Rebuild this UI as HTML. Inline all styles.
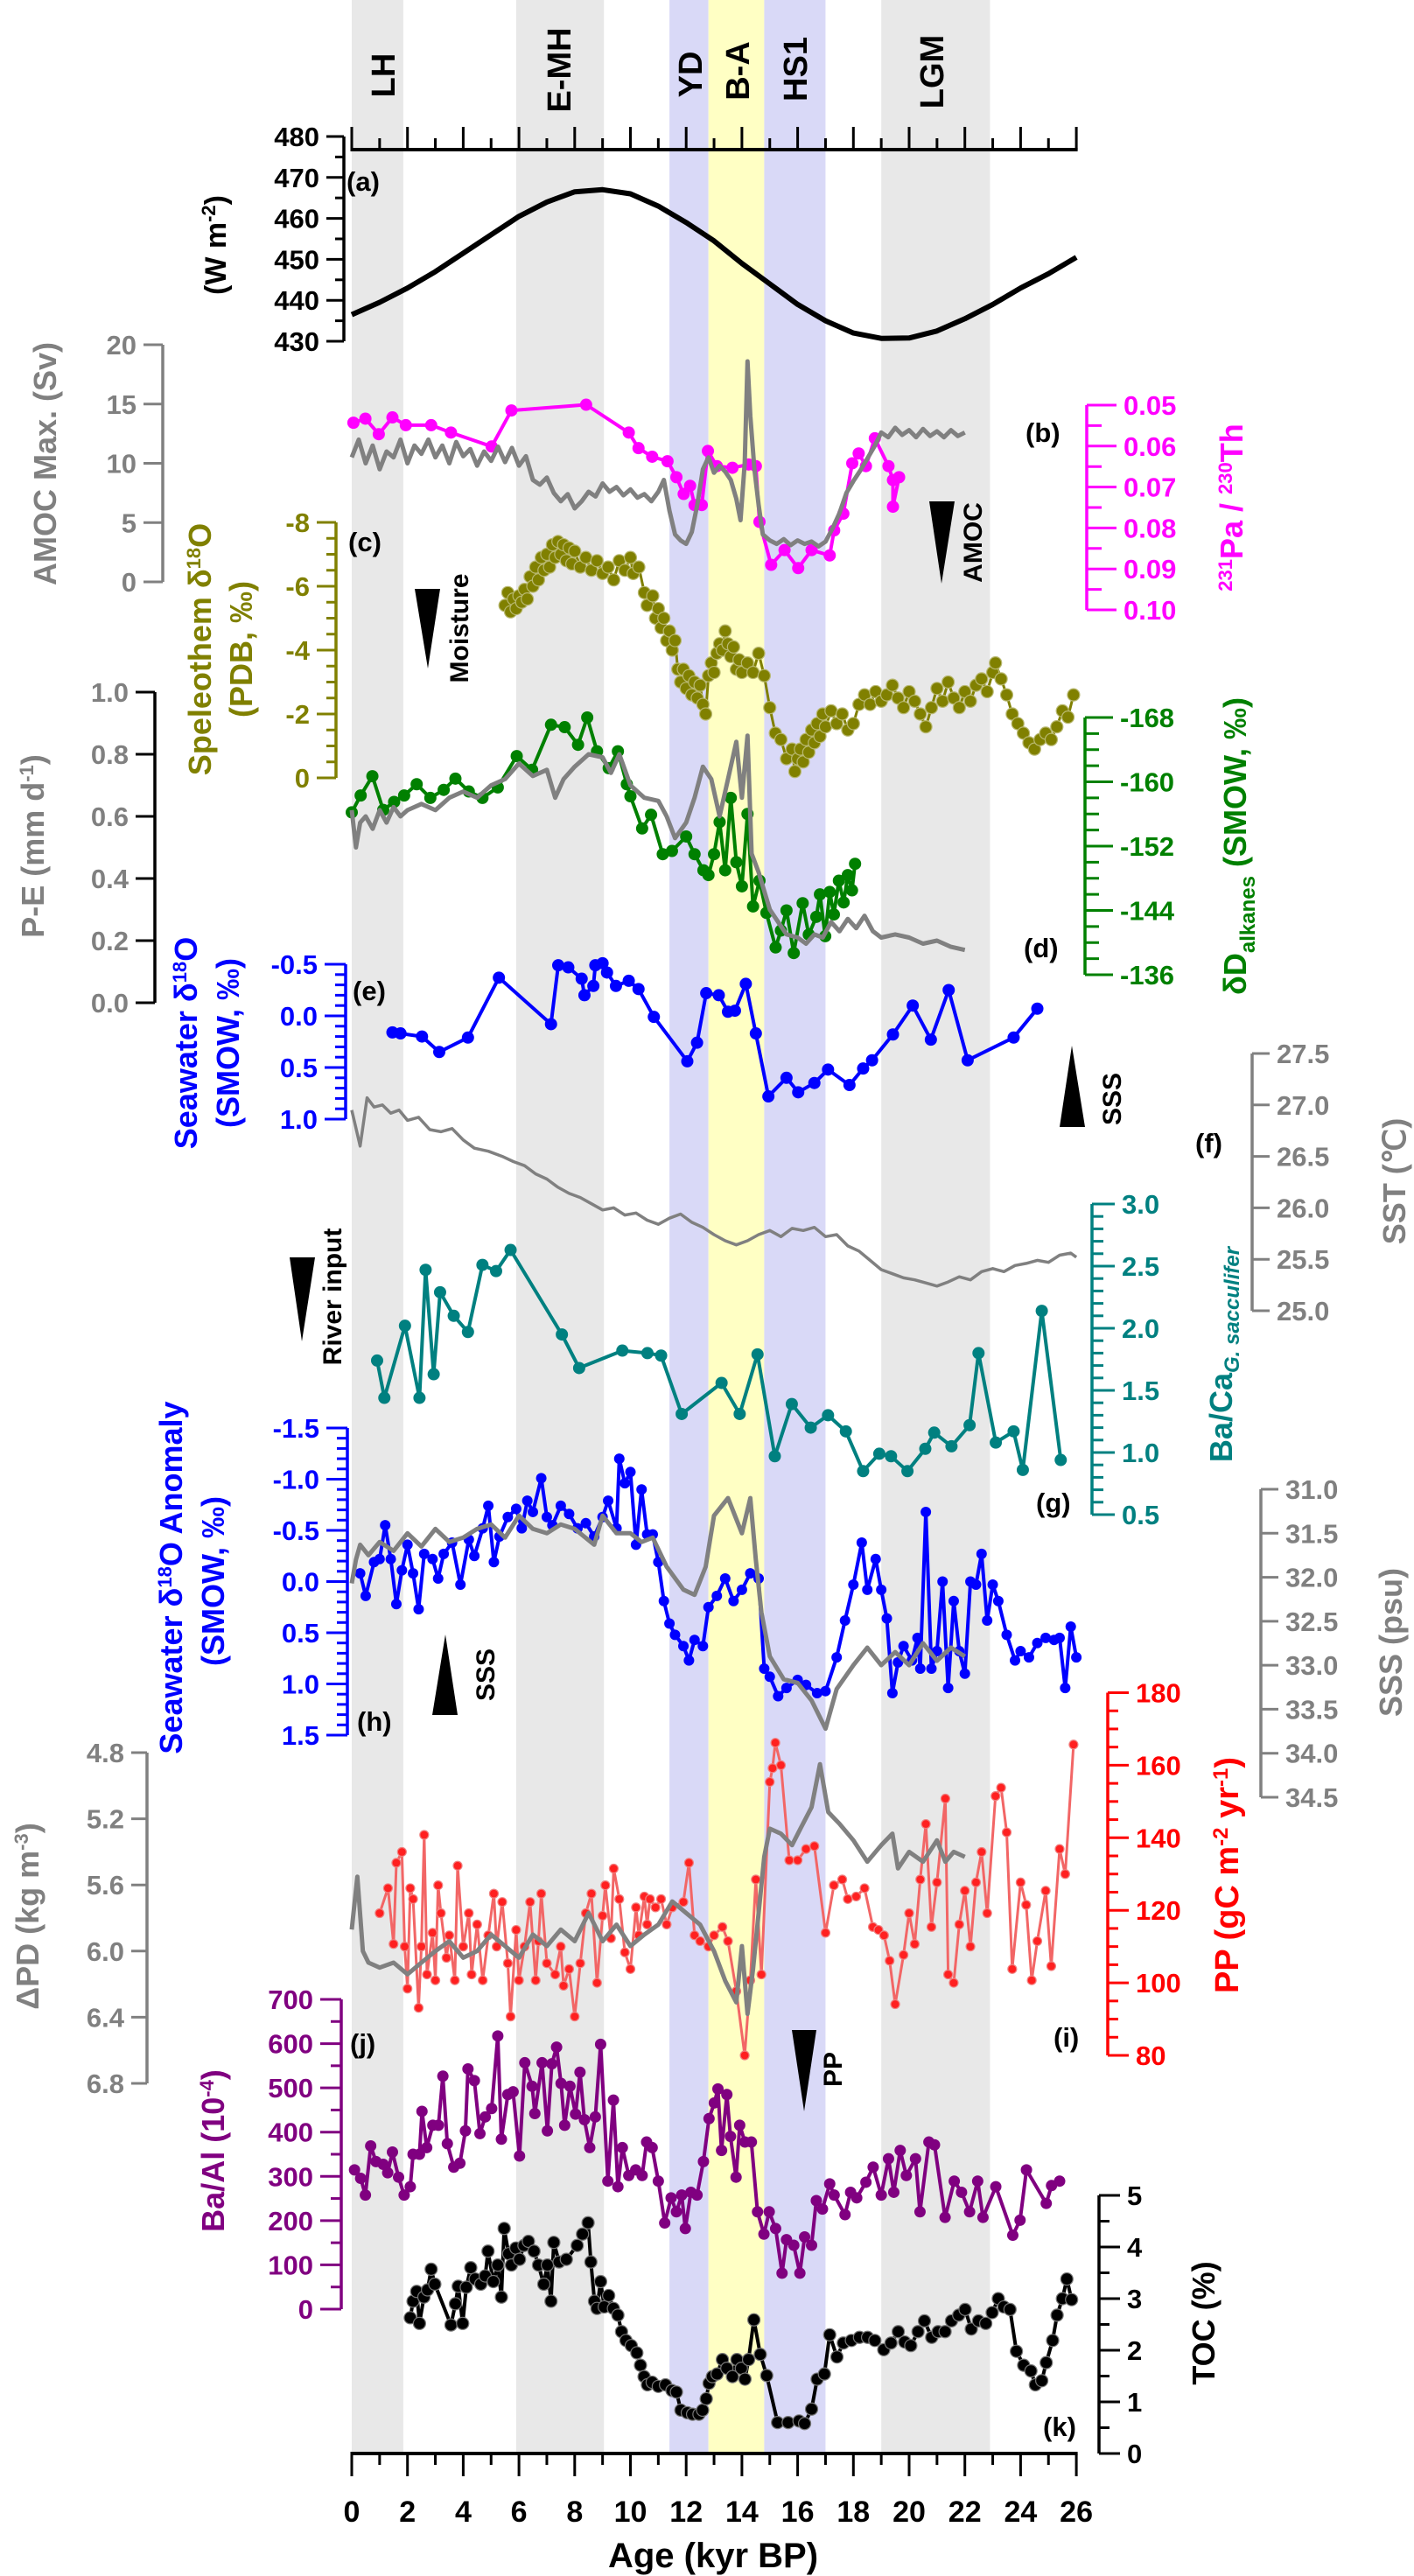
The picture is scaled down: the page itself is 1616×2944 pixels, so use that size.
<!DOCTYPE html>
<html><head><meta charset="utf-8"><style>
html,body{margin:0;padding:0;background:#fff}
svg{display:block}
text{font-family:"Liberation Sans",sans-serif;font-weight:bold}
</style></head><body>
<svg id="fig" xmlns="http://www.w3.org/2000/svg" width="1616" height="2944" viewBox="0 0 1616 2944">
<g id="bands"></g>
<g id="axes"></g>
<g id="series"></g>
<g font-size="38">
  <text transform="translate(451,86) rotate(-90)" text-anchor="middle">LH</text>
  <text transform="translate(652,80) rotate(-90)" text-anchor="middle">E-MH</text>
  <text transform="translate(802,85) rotate(-90)" text-anchor="middle">YD</text>
  <text transform="translate(856,81) rotate(-90)" text-anchor="middle">B-A</text>
  <text transform="translate(922,79) rotate(-90)" text-anchor="middle">HS1</text>
  <text transform="translate(1078,82) rotate(-90)" text-anchor="middle">LGM</text>
  <g font-size="31">
  <text x="396" y="218">(a)</text>
  <text x="1172" y="505">(b)</text>
  <text x="398" y="630">(c)</text>
  <text x="1170" y="1094">(d)</text>
  <text x="403" y="1143">(e)</text>
  <text x="1366" y="1317">(f)</text>
  <text x="1184" y="1728">(g)</text>
  <text x="408" y="1978">(h)</text>
  <text x="1204" y="2339">(i)</text>
  <text x="400" y="2346">(j)</text>
  <text x="1192" y="2784">(k)</text>
  </g>
  <text transform="translate(258,280) rotate(-90)" text-anchor="middle" font-size="34">(W m<tspan dy="-12" font-size="22">-2</tspan><tspan dy="12">)</tspan></text>
  <text fill="#808080" transform="translate(64,530) rotate(-90)" text-anchor="middle" font-size="36">AMOC Max. (Sv)</text>
  <text fill="#ff00ff" transform="translate(1420,580) rotate(-90)" text-anchor="middle" font-size="36"><tspan dy="-12" font-size="22">231</tspan><tspan dy="12">Pa / </tspan><tspan dy="-12" font-size="22">230</tspan><tspan dy="12">Th</tspan></text>
  <text fill="#808000" transform="translate(241,742) rotate(-90)" text-anchor="middle" font-size="36">Speleothem δ<tspan dy="-12" font-size="22">18</tspan><tspan dy="12">O</tspan></text>
  <text fill="#808000" transform="translate(288,742) rotate(-90)" text-anchor="middle" font-size="36">(PDB, ‰)</text>
  <text fill="#808080" transform="translate(50,967) rotate(-90)" text-anchor="middle" font-size="36">P-E (mm d<tspan dy="-12" font-size="22">-1</tspan><tspan dy="12">)</tspan></text>
  <text fill="#008000" transform="translate(1424,967) rotate(-90)" text-anchor="middle" font-size="36">δD<tspan dy="10" font-size="24">alkanes</tspan><tspan dy="-10"> (SMOW, ‰)</tspan></text>
  <text fill="#0000ff" transform="translate(225,1192) rotate(-90)" text-anchor="middle" font-size="36">Seawater δ<tspan dy="-12" font-size="22">18</tspan><tspan dy="12">O</tspan></text>
  <text fill="#0000ff" transform="translate(273,1192) rotate(-90)" text-anchor="middle" font-size="36">(SMOW, ‰)</text>
  <text fill="#808080" transform="translate(1606,1350) rotate(-90)" text-anchor="middle" font-size="36">SST (℃)</text>
  <text fill="#008080" transform="translate(1408,1548) rotate(-90)" text-anchor="middle" font-size="36">Ba/Ca<tspan dy="8" font-size="24" font-style="italic">G. sacculifer</tspan></text>
  <text fill="#0000ff" transform="translate(208,1803) rotate(-90)" text-anchor="middle" font-size="36">Seawater δ<tspan dy="-12" font-size="22">18</tspan><tspan dy="12">O Anomaly</tspan></text>
  <text fill="#0000ff" transform="translate(256,1807) rotate(-90)" text-anchor="middle" font-size="36">(SMOW, ‰)</text>
  <text fill="#808080" transform="translate(1602,1877) rotate(-90)" text-anchor="middle" font-size="36">SSS (psu)</text>
  <text fill="#ff0000" transform="translate(1415,2143) rotate(-90)" text-anchor="middle" font-size="38">PP (gC m<tspan dy="-12" font-size="24">-2</tspan><tspan dy="12"> yr</tspan><tspan dy="-12" font-size="24">-1</tspan><tspan dy="12">)</tspan></text>
  <text fill="#808080" transform="translate(44,2190) rotate(-90)" text-anchor="middle" font-size="36">ΔPD (kg m<tspan dy="-12" font-size="22">-3</tspan><tspan dy="12">)</tspan></text>
  <text fill="#800080" transform="translate(256,2458) rotate(-90)" text-anchor="middle" font-size="36">Ba/Al (10<tspan dy="-12" font-size="22">-4</tspan><tspan dy="12">)</tspan></text>
  <text transform="translate(1388,2655) rotate(-90)" text-anchor="middle" font-size="36">TOC (%)</text>
  <text x="815" y="2934" text-anchor="middle" font-size="40">Age (kyr BP)</text>
  <polygon points="1062,573 1091,573 1076,667"/>
  <text transform="translate(1122,620) rotate(-90)" text-anchor="middle" font-size="30">AMOC</text>
  <polygon points="474,673 503,673 489,764"/>
  <text transform="translate(535,718) rotate(-90)" text-anchor="middle" font-size="30">Moisture</text>
  <polygon points="1211,1288 1240,1288 1225,1195"/>
  <text transform="translate(1281,1256) rotate(-90)" text-anchor="middle" font-size="30">SSS</text>
  <polygon points="331,1437 360,1437 345,1533"/>
  <text transform="translate(390,1482) rotate(-90)" text-anchor="middle" font-size="30">River input</text>
  <polygon points="494,1960 523,1960 509,1868"/>
  <text transform="translate(565,1914) rotate(-90)" text-anchor="middle" font-size="30">SSS</text>
  <polygon points="905,2320 933,2320 919,2413"/>
  <text transform="translate(962,2365) rotate(-90)" text-anchor="middle" font-size="30">PP</text>
</g>
</svg>
<script>
// ---------- data ----------
const insolAge=[0,1,2,3,4,5,6,7,8,9,10,11,12,13,14,15,16,17,18,19,20,21,22,23,24,25,26];
const insolVal=[436.5,439.5,443,447,451.5,456,460.5,464,466.5,467,466,463,459,454.5,449,444,439,435,432,430.7,430.8,432.5,435.5,439,443,446.5,450.5];

const amocAge=[0,0.25,0.5,0.75,1,1.25,1.5,1.75,2,2.25,2.5,2.75,3,3.25,3.5,3.75,4,4.25,4.5,4.75,5,5.25,5.5,5.75,6,6.25,6.5,6.75,7,7.25,7.5,7.75,8,8.25,8.5,8.75,9,9.25,9.5,9.75,10,10.25,10.5,10.75,11,11.2,11.4,11.6,11.8,12,12.2,12.4,12.6,12.8,13,13.2,13.4,13.6,13.8,13.95,14.1,14.2,14.3,14.45,14.6,14.75,15,15.25,15.5,15.75,16,16.25,16.5,16.75,17,17.25,17.5,17.75,18,18.25,18.5,18.75,19,19.25,19.5,19.75,20,20.25,20.5,20.75,21,21.25,21.5,21.75,22];
const amocVal=[10.5,12,10,11.5,9.5,11,10.5,12,10,11.5,10.8,12,10.5,11.5,10,11.8,10.6,11.2,9.8,11,10.2,11.4,10.1,11.3,9.8,10.6,8.6,8.2,8.8,7.5,6.8,7.4,6.2,6.8,7.6,7.2,8.3,7.6,8,7.3,7.8,7.1,7.4,6.8,7.6,8.6,6,4,3.5,3.2,4.2,6.5,9.5,10.5,9.2,9.8,9.3,8.6,7,5.2,10,18.6,14,9.5,6.5,4,3.5,3.2,3.6,3.1,3.5,3.2,3.4,3.0,3.4,4.5,5.8,7.5,8.5,9.4,10.4,11.4,12.6,12.2,13,12.4,12.8,12.2,12.9,12.3,12.7,12.2,12.8,12.3,12.6];

const paAge=[0.06,0.49,0.97,1.46,1.94,2.85,3.56,5.02,5.73,8.41,9.94,10.29,10.78,11.33,11.65,11.91,12.14,12.30,12.56,12.78,13.1,13.66,14.24,14.5,14.63,15.05,15.53,16.02,16.5,17.15,17.31,17.64,17.96,18.19,18.45,18.77,19.26,19.42,19.42,19.64];
const paVal=[0.0543,0.0533,0.0571,0.0530,0.0549,0.0549,0.0567,0.0601,0.0513,0.0499,0.0567,0.0605,0.0626,0.0637,0.0676,0.0717,0.0697,0.0744,0.0744,0.0612,0.0649,0.0653,0.0645,0.0649,0.0785,0.0890,0.0854,0.0898,0.0854,0.0867,0.0806,0.0765,0.0642,0.0618,0.0649,0.0581,0.0649,0.0683,0.0748,0.0676];

const spelAge=[5.5,5.6,5.7,5.8,5.9,6.0,6.1,6.2,6.3,6.4,6.5,6.6,6.7,6.8,6.9,7.0,7.1,7.2,7.3,7.4,7.5,7.6,7.7,7.8,7.9,8.0,8.2,8.4,8.6,8.8,9.0,9.2,9.4,9.6,9.8,10.0,10.1,10.3,10.5,10.6,10.8,10.9,11.0,11.1,11.2,11.3,11.4,11.5,11.6,11.7,11.8,11.9,12.0,12.1,12.2,12.3,12.4,12.5,12.6,12.7,12.8,12.9,13.0,13.1,13.2,13.3,13.4,13.5,13.6,13.7,13.8,13.9,14.0,14.2,14.4,14.6,14.8,15.0,15.2,15.4,15.6,15.8,15.9,16.0,16.1,16.2,16.3,16.4,16.5,16.6,16.7,16.8,16.9,17.0,17.2,17.4,17.6,17.8,18.0,18.2,18.4,18.6,18.8,19.0,19.2,19.4,19.6,19.8,20.0,20.2,20.4,20.6,20.8,21.0,21.2,21.4,21.6,21.8,22.0,22.2,22.4,22.6,22.8,23.0,23.1,23.3,23.5,23.7,23.9,24.1,24.3,24.5,24.7,24.9,25.1,25.3,25.5,25.7,25.9];
const spelVal=[-5.4,-5.8,-5.2,-5.6,-5.3,-5.7,-5.5,-5.9,-5.6,-6.3,-6.0,-6.6,-6.2,-6.9,-6.5,-7.0,-6.6,-7.3,-6.9,-7.4,-7.0,-7.3,-6.8,-7.2,-6.7,-7.1,-6.6,-6.9,-6.5,-6.8,-6.4,-6.6,-6.2,-6.8,-6.5,-6.9,-6.4,-6.6,-5.8,-5.4,-5.7,-5.0,-5.3,-4.7,-5.0,-4.3,-4.6,-4.0,-4.3,-3.4,-3.0,-3.4,-2.8,-3.2,-2.6,-3.0,-2.5,-2.9,-2.3,-2.0,-3.2,-3.6,-3.3,-3.9,-4.2,-4.0,-4.6,-4.2,-3.8,-4.1,-3.4,-3.7,-3.3,-3.6,-3.3,-3.9,-3.2,-2.2,-1.4,-1.2,-0.6,-0.9,-0.2,-0.6,-0.9,-0.5,-1.2,-0.8,-1.5,-1.1,-1.7,-1.3,-2.0,-1.6,-2.1,-1.7,-2.0,-1.5,-1.7,-2.3,-2.6,-2.3,-2.7,-2.4,-2.6,-2.9,-2.5,-2.2,-2.7,-2.4,-2.0,-1.6,-2.2,-2.8,-2.4,-3.0,-2.5,-2.2,-2.7,-2.4,-2.9,-3.1,-2.7,-3.3,-3.6,-3.1,-2.6,-2.0,-1.7,-1.4,-1.1,-0.9,-1.2,-1.4,-1.2,-1.6,-2.1,-1.9,-2.6];

const peAge=[0,0.15,0.3,0.5,0.75,1,1.25,1.5,1.75,2,2.5,3,3.5,4,4.5,5,5.5,6,6.5,7,7.3,7.6,8,8.5,9,9.3,9.6,10,10.5,11,11.3,11.6,12,12.3,12.6,12.9,13.2,13.5,13.8,14,14.2,14.35,14.6,14.8,15,15.3,15.6,16,16.3,16.6,16.9,17.2,17.5,17.8,18.1,18.4,18.7,19,19.5,20,20.5,21,21.5,22];
const peVal=[0.62,0.50,0.58,0.60,0.56,0.62,0.58,0.63,0.60,0.62,0.64,0.62,0.66,0.68,0.66,0.70,0.72,0.77,0.73,0.75,0.66,0.72,0.76,0.80,0.79,0.74,0.80,0.70,0.66,0.65,0.60,0.53,0.58,0.66,0.76,0.72,0.60,0.72,0.84,0.66,0.86,0.48,0.42,0.36,0.30,0.26,0.22,0.21,0.19,0.22,0.21,0.26,0.23,0.27,0.24,0.28,0.23,0.21,0.22,0.21,0.19,0.20,0.18,0.17];

const ddAge=[0,0.32,0.74,1.13,1.52,1.88,2.33,2.82,3.3,3.72,4.2,4.69,5.24,5.92,6.47,7.15,7.64,8.12,8.45,8.8,9.22,9.55,9.87,10.0,10.42,10.74,11.16,11.49,12.0,12.3,12.62,12.8,13.0,13.2,13.4,13.6,13.8,14.0,14.2,14.4,14.63,14.88,15.21,15.4,15.6,15.86,16.18,16.4,16.67,16.8,16.99,17.15,17.3,17.48,17.65,17.8,17.95,18.06];
const ddVal=[-156.2,-158.3,-160.7,-156.5,-157.5,-158.3,-159.7,-158,-159,-160.4,-158.8,-158,-159.3,-163.2,-161.5,-167.1,-166.8,-164.6,-168,-163.8,-161.7,-163.8,-159.7,-158.2,-154.2,-155.9,-151,-151.4,-153.2,-151,-149,-148.4,-151,-155,-149,-158,-150,-147,-156,-144.5,-147.7,-143.7,-139.4,-141.5,-144,-138.7,-144.9,-141,-143.2,-146,-140.8,-146.3,-143.5,-147.7,-145,-148.4,-146.5,-149.8];

const swAge=[1.46,1.75,2.52,3.14,4.17,5.28,7.15,7.41,7.77,8.25,8.35,8.67,8.74,9.0,9.16,9.48,9.94,10.29,10.84,12.04,12.39,12.72,13.17,13.5,13.75,14.14,14.5,14.95,15.6,16.02,16.6,17.09,17.86,18.35,18.67,19.42,20.13,20.78,21.42,22.1,23.75,24.6];
const swVal=[0.16,0.17,0.20,0.35,0.21,-0.37,0.08,-0.49,-0.47,-0.36,-0.20,-0.29,-0.49,-0.51,-0.42,-0.29,-0.34,-0.26,0.01,0.44,0.26,-0.22,-0.20,-0.04,-0.05,-0.31,0.17,0.78,0.60,0.74,0.65,0.52,0.67,0.51,0.43,0.18,-0.10,0.23,-0.25,0.43,0.21,-0.07];

const sstAge=[0,0.3,0.55,0.8,1.1,1.4,1.7,2.0,2.4,2.8,3.2,3.6,4.0,4.4,4.9,5.4,5.8,6.2,6.6,7.0,7.4,7.8,8.2,8.6,9.0,9.4,9.8,10.2,10.6,11.0,11.4,11.8,12.2,12.6,13.0,13.4,13.8,14.2,14.6,15.0,15.4,15.8,16.2,16.6,17.0,17.4,17.8,18.2,18.6,19.0,19.4,19.8,20.2,20.6,21.0,21.4,21.8,22.2,22.6,23.0,23.4,23.8,24.2,24.6,25.0,25.4,25.8,26.0];
const sstVal=[26.95,26.6,27.07,26.98,27.0,26.92,26.95,26.85,26.88,26.76,26.74,26.77,26.66,26.58,26.55,26.5,26.45,26.41,26.33,26.28,26.2,26.14,26.1,26.04,25.98,26.0,25.93,25.95,25.88,25.84,25.9,25.94,25.86,25.81,25.74,25.68,25.64,25.68,25.74,25.78,25.72,25.8,25.78,25.81,25.72,25.74,25.63,25.58,25.49,25.4,25.36,25.32,25.3,25.27,25.24,25.28,25.33,25.3,25.38,25.41,25.38,25.44,25.46,25.49,25.47,25.54,25.56,25.52];

const bacaAge=[0.91,1.17,1.91,2.43,2.65,2.94,3.17,3.66,4.17,4.69,5.18,5.7,7.54,8.16,9.71,10.61,11.1,11.84,13.27,13.92,14.56,15.18,15.79,16.47,17.09,17.73,18.35,18.93,19.35,19.94,20.58,20.9,21.52,22.17,22.49,23.11,23.75,24.08,24.76,25.44];
const bacaVal=[1.74,1.44,2.02,1.44,2.47,1.63,2.29,2.10,1.97,2.51,2.46,2.63,1.95,1.68,1.82,1.80,1.78,1.31,1.56,1.31,1.79,0.97,1.39,1.20,1.30,1.17,0.85,0.99,0.97,0.85,1.03,1.16,1.05,1.22,1.80,1.08,1.17,0.86,2.14,0.94];

const anomAge=[0.3,0.5,0.8,1.0,1.2,1.4,1.6,1.8,2.0,2.2,2.4,2.6,2.9,3.1,3.3,3.6,3.9,4.2,4.4,4.7,4.9,5.1,5.3,5.6,5.9,6.1,6.3,6.5,6.8,7.0,7.2,7.5,7.8,8.1,8.4,8.7,9.0,9.2,9.5,9.6,9.8,10.0,10.2,10.4,10.6,10.8,11.0,11.2,11.4,11.6,11.9,12.1,12.3,12.6,12.8,13.1,13.4,13.7,14.0,14.3,14.6,14.8,15.0,15.3,15.6,16.0,16.3,16.7,17.0,17.4,17.7,18.0,18.3,18.5,18.8,19.0,19.2,19.4,19.6,19.8,20.1,20.3,20.4,20.6,20.8,21.0,21.2,21.4,21.6,21.8,22.0,22.2,22.4,22.6,22.8,23.0,23.2,23.5,23.8,24.0,24.3,24.6,24.9,25.2,25.4,25.6,25.8,26.0];
const anomVal=[-0.08,0.14,-0.19,-0.22,-0.55,-0.22,0.22,-0.11,-0.36,-0.08,0.27,-0.27,-0.22,-0.03,-0.27,-0.38,0.03,-0.41,-0.25,-0.52,-0.74,-0.19,-0.44,-0.63,-0.71,-0.52,-0.79,-0.68,-1.01,-0.63,-0.55,-0.74,-0.66,-0.52,-0.57,-0.44,-0.63,-0.79,-0.52,-1.20,-0.96,-1.07,-0.36,-0.90,-0.46,-0.46,-0.19,0.19,0.41,0.52,0.63,0.77,0.57,0.63,0.25,0.14,-0.03,0.19,0.08,-0.08,-0.03,0.85,0.93,1.12,1.04,0.96,1.01,1.09,1.07,0.74,0.38,0.03,-0.38,0.08,-0.22,0.08,0.36,1.09,0.79,0.63,0.77,0.55,0.85,-0.68,0.85,0.68,0.00,1.04,0.19,0.68,0.90,0.00,0.03,-0.27,0.38,0.03,0.19,0.52,0.77,0.68,0.74,0.60,0.55,0.57,0.55,1.04,0.44,0.74];

const sssAge=[0,0.15,0.3,0.6,1,1.5,2,2.5,3,3.5,4,4.5,5,5.5,6,6.5,7,7.5,8,8.7,9,9.5,10,10.4,10.8,11.3,11.9,12.3,12.7,13.0,13.5,14.0,14.3,14.5,14.7,15.0,15.5,16.0,16.5,17.0,17.4,18.0,18.5,19.0,19.5,20.0,20.5,21.0,21.5,22.0];
const sssVal=[32.07,31.8,31.63,31.75,31.6,31.7,31.5,31.65,31.45,31.6,31.55,31.45,31.4,31.55,31.3,31.45,31.5,31.4,31.45,31.63,31.3,31.5,31.5,31.6,31.55,31.88,32.14,32.2,31.88,31.3,31.1,31.5,31.1,31.8,32.4,32.9,33.16,33.2,33.4,33.72,33.27,33.0,32.8,33.0,32.85,33.0,32.75,32.95,32.8,32.9];

const ppAge=[1.0,1.3,1.5,1.6,1.8,1.9,2.0,2.1,2.2,2.4,2.5,2.6,2.7,2.9,3.0,3.1,3.2,3.4,3.5,3.7,3.8,4.0,4.2,4.3,4.5,4.7,4.9,5.1,5.2,5.4,5.6,5.7,5.9,6.0,6.2,6.4,6.6,6.7,6.8,7.0,7.3,7.5,7.6,7.8,8.0,8.2,8.4,8.6,8.8,9.0,9.1,9.3,9.4,9.6,9.8,10.0,10.2,10.3,10.5,10.6,10.7,10.9,11.1,11.3,11.5,11.9,12.1,12.3,12.5,12.8,13.0,13.3,13.5,13.8,14.1,14.3,14.5,14.7,15.0,15.1,15.2,15.4,15.7,16.0,16.3,16.6,17.0,17.3,17.6,17.8,18.1,18.4,18.7,18.9,19.1,19.3,19.5,19.8,20.0,20.2,20.4,20.6,20.8,21.0,21.3,21.4,21.6,21.8,22.0,22.2,22.4,22.6,22.8,23.1,23.3,23.5,23.7,24.0,24.2,24.4,24.6,24.9,25.1,25.4,25.6,25.9];
const ppVal=[119.2,126.1,110.7,133.1,136.1,110,98.4,126.1,123.1,93.1,110,140.8,102.3,113.8,100.7,126.9,119.2,106.9,113.1,100.7,132.3,110,119.2,102.3,116.1,100.7,113.1,124.6,110,122.3,105.4,90.7,114.6,100.7,110,122.3,100.7,111.5,124.6,105.4,102.3,110,99.2,103.8,90.7,105.4,119.2,124.6,100,118.5,126.9,112.3,131.5,123.1,108.4,103.8,120.8,113.1,123.8,116.1,123.1,120.8,123.1,116.1,120.8,122.3,133.1,113.1,111.5,110,113.1,115.4,111.5,97.7,80,100.7,128.5,102.3,155.4,159.2,166.2,160,133.8,133.8,136.9,137.7,113.8,126.9,128.5,123.1,123.8,126.1,115.4,114.6,113.1,106.1,94.1,107.7,119.2,110.7,128.5,143.8,115.4,127.7,150.8,102.3,100,116.1,125.4,110,127.7,136.1,119.2,151.5,153.8,141.5,103.8,127.7,121.5,100.7,111.5,125.4,104.6,136.9,130,165.7];

const pdAge=[0,0.2,0.4,0.6,1,1.5,2,2.5,3,3.5,4,4.5,5,5.5,6,6.5,7,7.5,8,8.5,9,9.5,10,10.5,11,11.5,12,12.5,13,13.4,13.8,14,14.2,14.4,14.6,14.8,15.0,15.4,15.8,16.1,16.5,16.8,17.1,17.5,18,18.5,19,19.4,19.6,20,20.5,21,21.3,21.6,22];
const pdVal=[5.87,5.55,6.0,6.07,6.1,6.07,6.14,6.07,6.0,5.94,6.04,6.0,5.9,5.97,6.04,5.9,5.97,5.87,5.94,5.77,5.94,5.84,5.97,5.9,5.84,5.70,5.77,5.84,6.0,6.18,6.31,5.97,6.38,6.11,5.77,5.43,5.26,5.29,5.36,5.26,5.13,4.87,5.16,5.23,5.33,5.46,5.36,5.29,5.5,5.4,5.46,5.33,5.46,5.4,5.43];

const baalAge=[0.10,0.32,0.49,0.68,0.87,1.13,1.29,1.46,1.68,1.88,2.10,2.20,2.43,2.52,2.69,2.91,3.11,3.27,3.43,3.66,3.88,4.08,4.17,4.40,4.60,4.79,5.02,5.24,5.37,5.60,5.79,6.02,6.21,6.47,6.57,6.83,7.02,7.18,7.35,7.51,7.64,7.83,8.03,8.19,8.35,8.54,8.74,8.93,9.19,9.39,9.55,9.71,9.94,10.19,10.42,10.58,10.78,11.0,11.23,11.46,11.65,11.84,11.97,12.17,12.39,12.62,12.82,13.01,13.14,13.27,13.46,13.59,13.79,13.92,14.11,14.34,14.56,14.79,14.98,15.21,15.44,15.6,15.86,16.08,16.25,16.5,16.67,16.89,17.15,17.31,17.7,17.9,18.12,18.45,18.71,19.0,19.26,19.45,19.68,19.9,20.23,20.39,20.71,20.91,21.29,21.62,21.88,22.17,22.46,22.65,23.11,23.72,23.98,24.21,24.92,25.11,25.4];
const baalVal=[314.6,295.6,257.8,368.8,333.5,327.2,308.2,355,298.2,257.8,276.7,350,350,447,365,415.5,415.5,526.5,373.9,320.9,329.7,402.9,542.9,516.4,396.6,434.4,453.3,617.3,384,484.9,491.2,346.1,556.8,503.8,442,556.8,402.9,554.3,592.1,510.1,415.5,503.8,440.7,535.3,428.1,365,434.4,598.4,289.3,472.3,276.7,365,302,314.6,302,377.6,365,289.3,194.7,251.5,219.9,257.8,182.1,264.1,257.8,333.5,430.6,466,497.5,358.7,484.9,390.3,298.2,415.5,377.6,377.6,219.9,169.5,219.9,182.1,81.2,156.9,144.3,81.2,163.2,144.3,245.2,226.2,283,257.8,213.6,264.1,251.5,286.8,320.9,257.8,339.8,264.1,358.7,302,339.8,219.9,377.6,371.3,207.3,289.3,264.1,219.9,289.3,207.3,276.7,167,201,314.6,238.9,279.2,289.3];

const tocAge=[2.10,2.20,2.33,2.43,2.59,2.72,2.85,2.98,3.56,3.72,3.82,3.98,4.11,4.27,4.43,4.63,4.79,4.89,5.08,5.24,5.37,5.47,5.63,5.73,5.89,6.02,6.18,6.34,6.54,6.70,6.89,7.02,7.15,7.25,7.44,7.70,8.09,8.28,8.48,8.58,8.71,8.80,8.93,9.06,9.22,9.39,9.55,9.68,9.84,10.03,10.23,10.36,10.49,10.61,10.78,11.0,11.26,11.49,11.65,11.81,12.04,12.23,12.46,12.59,12.72,12.82,12.94,13.11,13.3,13.46,13.66,13.82,13.98,14.11,14.24,14.43,14.66,14.89,15.28,15.66,16.05,16.25,16.5,16.7,16.96,17.15,17.41,17.64,17.93,18.22,18.51,18.77,19.09,19.35,19.61,19.84,20.06,20.32,20.55,20.81,21.04,21.29,21.52,21.78,22.01,22.23,22.49,22.75,22.98,23.2,23.4,23.62,23.85,24.11,24.37,24.53,24.76,24.92,25.15,25.31,25.5,25.66,25.83];
const tocVal=[2.63,2.95,3.14,2.52,3.03,3.17,3.57,3.28,2.49,2.90,3.24,2.52,3.22,3.60,3.38,3.28,3.44,3.92,3.33,3.65,3.03,4.36,3.87,3.65,3.98,3.76,4.03,4.11,3.92,3.65,3.28,3.65,2.95,4.09,3.71,3.76,4.03,4.25,4.47,3.71,2.95,2.81,3.33,2.84,3.06,2.81,2.68,2.36,2.19,2.09,1.95,1.71,1.49,1.33,1.38,1.30,1.33,1.22,1.19,0.84,0.79,0.76,0.76,0.84,1.06,1.36,1.49,1.54,1.82,1.65,1.49,1.82,1.65,1.44,1.82,2.59,1.92,1.51,0.60,0.60,0.63,0.58,0.86,1.44,1.54,2.30,1.87,2.14,2.19,2.25,2.25,2.19,2.01,2.14,2.36,2.16,2.09,2.36,2.57,2.25,2.36,2.36,2.57,2.68,2.79,2.41,2.57,2.52,2.73,3.00,2.84,2.79,1.98,1.71,1.60,1.33,1.41,1.76,2.19,2.68,3.00,3.38,2.98];

const bandStart=[0,5.9,11.4,12.8,14.8,19.0];
const bandEnd=[1.85,9.05,12.8,14.8,17.0,22.9];
const bandNames=['lh','e-mh','yd','b-a','hs1','lgm'];
const ageTicks=[0,2,4,6,8,10,12,14,16,18,20,22,24,26];

// ---------- helpers ----------
const NS='http://www.w3.org/2000/svg';
function mk(tag,attrs,parent){const e=document.createElementNS(NS,tag);for(const k in attrs)e.setAttribute(k,attrs[k]);parent.appendChild(e);return e;}
function lin(v0,y0,v1,y1){return v=>y0+(v-v0)*(y1-y0)/(v1-v0);}
const X=t=>402+31.85*t;
const gB=document.getElementById('bands'),gA=document.getElementById('axes'),gS=document.getElementById('series');

const bandFill=['#e8e8e8','#e8e8e8','#d9d9f7','#ffffc4','#d9d9f7','#e8e8e8'];
for(let i=0;i<bandStart.length;i++){
  const r=mk('rect',{x:X(bandStart[i]),y:0,width:X(bandEnd[i])-X(bandStart[i]),height:2804,fill:bandFill[i]},gB);
  
  
}

function xAxis(y,dir,name){
  const g=mk('g',{},gA);
  
  
  mk('line',{x1:X(0)-1.5,x2:X(26)+1.5,y1:y,y2:y,stroke:'#000','stroke-width':4},g);
  for(let t=0;t<=26;t++){
    const len=t%2===0?26:13;
    mk('line',{x1:X(t),x2:X(t),y1:y,y2:y+dir*len,stroke:'#000','stroke-width':3},g);
  }
  return g;
}
xAxis(171,-1,'top-age-axis');
const gx=xAxis(2804,1,'bottom-age-axis');
ageTicks.forEach(t=>{
  const tx=mk('text',{x:X(t),y:2882,'text-anchor':'middle','font-size':34},gx);
  
  
  tx.textContent=t;
});

function yAxis(o){
  const g=mk('g',{},gA);
  
  
  const s=o.side==='left'?-1:1;
  mk('line',{x1:o.x,x2:o.x,y1:o.sc(o.v0),y2:o.sc(o.v1),stroke:o.line||o.color,'stroke-width':3.5},g);
  const n=Math.round((o.v1-o.v0)/(o.minor||o.major));
  for(let i=0;i<=n;i++){
    const v=o.v0+i*(o.minor||o.major);
    const isMaj=Math.abs(v/o.major-Math.round(v/o.major))<1e-6;
    const len=isMaj?(o.len||22):(o.len||22)*0.5;
    const y=o.sc(v);
    mk('line',{x1:o.x,x2:o.x+s*len,y1:y,y2:y,stroke:o.line||o.color,'stroke-width':3},g);
    if(isMaj){
      const tx=mk('text',{x:o.x+s*((o.len||22)+8),y:y+11,'text-anchor':s<0?'end':'start','font-size':o.fs||31,fill:o.color},g);
      
      
      tx.textContent=(Math.abs(v)<1e-9?0:v).toFixed(o.dec);
    }
  }
}
const Ya=lin(480,156,430,390),Yamoc=lin(20,394,0,665),Ypa=lin(0.05,463,0.10,697),Ysp=lin(-8,597,0,889),
Ype=lin(1,791,0,1146),Ydd=lin(-168,820,-136,1114),Ye=lin(-0.5,1102,1.0,1279),Ysst=lin(27.5,1204,25,1498),
Yba=lin(3,1376,0.5,1731),Yh=lin(-1.5,1632,1.5,1983),Ysss=lin(31,1702,34.5,2054),Ypp=lin(180,1934.5,80,2349),
Ypd=lin(4.8,2003,6.8,2381),Yal=lin(700,2285,0,2639),Ytoc=lin(5,2509,0,2804);

yAxis({name:'insolation-axis',x:393,v0:430,v1:480,sc:Ya,major:10,minor:5,side:'left',color:'#000',dec:0,len:20});
yAxis({name:'amoc-axis',x:186,v0:0,v1:20,sc:Yamoc,major:5,side:'left',color:'#808080',dec:0});
yAxis({name:'pa-th-axis',x:1242,v0:0.05,v1:0.10,sc:Ypa,major:0.01,minor:0.005,side:'right',color:'#ff00ff',dec:2,len:34});
yAxis({name:'speleothem-axis',x:384,v0:-8,v1:0,sc:Ysp,major:2,minor:0.5,side:'left',color:'#808000',dec:0,len:22});
yAxis({name:'pe-axis',x:177,v0:0,v1:1,sc:Ype,major:0.2,side:'left',color:'#808080',line:'#000',dec:1});
yAxis({name:'dd-axis',x:1240,v0:-168,v1:-136,sc:Ydd,major:8,minor:2,side:'right',color:'#008000',dec:0,len:32});
yAxis({name:'seawater-axis',x:395,v0:-0.5,v1:1.0,sc:Ye,major:0.5,minor:0.1,side:'left',color:'#0000ff',dec:1,len:24});
yAxis({name:'sst-axis',x:1431,v0:25,v1:27.5,sc:Ysst,major:0.5,side:'right',color:'#808080',dec:1,len:20});
yAxis({name:'baca-axis',x:1248,v0:0.5,v1:3.0,sc:Yba,major:0.5,minor:0.1,side:'right',color:'#008080',dec:1,len:26});
yAxis({name:'anomaly-axis',x:397,v0:-1.5,v1:1.5,sc:Yh,major:0.5,minor:0.1,side:'left',color:'#0000ff',dec:1,len:24});
yAxis({name:'sss-axis',x:1441,v0:31,v1:34.5,sc:Ysss,major:0.5,side:'right',color:'#808080',dec:1,len:20});
yAxis({name:'pp-axis',x:1266,v0:80,v1:180,sc:Ypp,major:20,minor:5,side:'right',color:'#ff0000',dec:0,len:24});
yAxis({name:'density-axis',x:168,v0:4.8,v1:6.8,sc:Ypd,major:0.4,side:'left',color:'#808080',dec:1,len:18});
yAxis({name:'baal-axis',x:390,v0:0,v1:700,sc:Yal,major:100,minor:50,side:'left',color:'#800080',dec:0,len:24});
yAxis({name:'toc-axis',x:1256,v0:0,v1:5,sc:Ytoc,major:1,minor:0.5,side:'right',color:'#000',dec:0,len:24});

function series(name,ages,vals,sc,o){
  const g=mk('g',{},gS);
  
  
  const d=ages.map((t,i)=>(i?'L':'M')+X(t).toFixed(1)+','+sc(vals[i]).toFixed(1)).join('');
  mk('path',{d:d,fill:'none',stroke:o.line,'stroke-width':o.w,'stroke-linejoin':'round'},g);
  if(o.r){
    ages.forEach((t,i)=>{
      const c=mk('circle',{cx:X(t),cy:sc(vals[i]),r:o.r,fill:o.fill,stroke:o.edge||'none','stroke-width':1.2},g);
      
      
    });
  }
}
series('insolation-line',insolAge,insolVal,Ya,{line:'#000',w:6});
series('pa-th-series',paAge,paVal,Ypa,{line:'#ff00ff',w:4,r:7,fill:'#ff00ff'});
series('amoc-line',amocAge,amocVal,Yamoc,{line:'#808080',w:5});
series('speleothem-series',spelAge,spelVal,Ysp,{line:'#808000',w:3,r:7,fill:'#808000',edge:'#b8b870'});
series('dd-series',ddAge,ddVal,Ydd,{line:'#008000',w:4,r:7,fill:'#008000'});
series('pe-line',peAge,peVal,Ype,{line:'#808080',w:5});
series('seawater-series',swAge,swVal,Ye,{line:'#0000ff',w:4,r:7,fill:'#0000ff'});
series('sst-line',sstAge,sstVal,Ysst,{line:'#808080',w:3.5});
series('baca-series',bacaAge,bacaVal,Yba,{line:'#008080',w:4,r:7,fill:'#008080'});
series('anomaly-series',anomAge,anomVal,Yh,{line:'#0000ff',w:4,r:6,fill:'#0000ff'});
series('sss-line',sssAge,sssVal,Ysss,{line:'#808080',w:5});
series('pp-series',ppAge,ppVal,Ypp,{line:'#f26666',w:3,r:5,fill:'#ff2020',edge:'#f08080'});
series('density-line',pdAge,pdVal,Ypd,{line:'#808080',w:5});
series('baal-series',baalAge,baalVal,Yal,{line:'#800080',w:4,r:6.5,fill:'#800080'});
series('toc-series',tocAge,tocVal,Ytoc,{line:'#000',w:4,r:7,fill:'#000',edge:'#777'});
</script>
</body></html>
